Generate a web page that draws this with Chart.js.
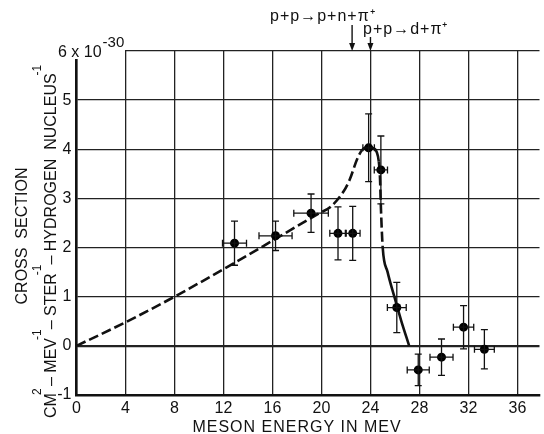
<!DOCTYPE html>
<html><head><meta charset="utf-8">
<script src="https://cdn.jsdelivr.net/npm/chart.js@4/dist/chart.umd.min.js"></script>
<style>html,body{margin:0;padding:0;background:#fff;}#wrap{width:544px;height:434px;position:relative;}</style>
</head><body><div id="wrap"><canvas id="c" width="544" height="434"></canvas></div>
<script>
// ---- data ----
const energy       = [12.9, 16.25, 19.15, 21.35, 22.55, 23.85, 24.85, 26.15, 27.9, 29.8, 31.6, 33.3];
const crossSection = [2.09, 2.24, 2.70, 2.29, 2.29, 4.03, 3.58, 0.78, -0.49, -0.23, 0.38, -0.07];
const yErr         = [0.45, 0.30, 0.39, 0.54, 0.55, 0.69, 0.69, 0.51, 0.32, 0.37, 0.44, 0.40];
const xErr         = [0.98, 1.35, 1.41, 0.67, 0.60, 0.47, 0.54, 0.77, 0.90, 0.94, 0.83, 0.81];
const curveX = [0, 4, 8, 12.9, 16, 19.9, 20.7, 21.8, 22.3, 22.9, 23.3, 23.8, 24.3, 24.5, 24.68, 24.78, 24.84, 25.0, 25.4, 25.95, 26.5, 27.16];
const curveY = [0, 0.48, 1.0, 1.69, 2.14, 2.71, 2.82, 3.14, 3.38, 3.79, 3.98, 4.04, 4.02, 3.95, 3.75, 3.4, 2.9, 2.0, 1.5, 1.0, 0.52, 0];
const xTicks = [0, 4, 8, 12, 16, 20, 24, 28, 32, 36];
const yTicks = [-1, 0, 1, 2, 3, 4, 5, 6];
const thresholds = [22.5, 24];
const thresholdLabels = ['p+p\u2192p+n+\u03C0\u207A', 'p+p\u2192d+\u03C0\u207A'];
const xTitle = 'MESON ENERGY IN MEV';
const yTitle1 = 'CROSS  SECTION';
const yTitle2 = [['CM',0],['2',1],[' \u2013 ',0],['MEV',0],['-1',1],[' \u2013 ',0],['STER',0],['-1',1],[' \u2013 ',0],['HYDROGEN  NUCLEUS',0],['-1',1]];

const FONT = '"Liberation Sans", Arial, sans-serif';
const INK = '#111';

const errorBars = {
  id: 'errorBars',
  afterDatasetsDraw(chart) {
    const {ctx, scales:{x, y}} = chart;
    ctx.save();
    ctx.strokeStyle = INK; ctx.lineWidth = 1.3;
    energy.forEach((e, i) => {
      const px = x.getPixelForValue(e), py = y.getPixelForValue(crossSection[i]);
      const y1 = y.getPixelForValue(crossSection[i] + yErr[i]);
      const y2 = y.getPixelForValue(crossSection[i] - yErr[i]);
      const x1 = x.getPixelForValue(e - xErr[i]);
      const x2 = x.getPixelForValue(e + xErr[i]);
      ctx.beginPath();
      ctx.moveTo(px, y1); ctx.lineTo(px, y2);
      ctx.moveTo(px - 3.5, y1); ctx.lineTo(px + 3.5, y1);
      ctx.moveTo(px - 3.5, y2); ctx.lineTo(px + 3.5, y2);
      ctx.moveTo(x1, py); ctx.lineTo(x2, py);
      ctx.moveTo(x1, py - 3.5); ctx.lineTo(x1, py + 3.5);
      ctx.moveTo(x2, py - 3.5); ctx.lineTo(x2, py + 3.5);
      ctx.stroke();
    });
    ctx.restore();
  }
};

const annotations = {
  id: 'annotations',
  afterDraw(chart) {
    const {ctx, scales:{x, y}} = chart;
    const top = y.getPixelForValue(6);
    ctx.save();
    // y-axis top label "6 x 10^-30"
    ctx.fillStyle = '#fff';
    ctx.fillRect(70, 38, 55, 21);
    ctx.fillStyle = INK;
    ctx.textBaseline = 'alphabetic'; ctx.textAlign = 'left';
    ctx.font = '16px ' + FONT;
    ctx.fillText('6 x 10', 58, 57);
    const w6 = ctx.measureText('6 x 10').width;
    ctx.font = '15px ' + FONT;
    ctx.fillText('-30', 58 + w6 + 1, 47);

    // threshold annotations
    ctx.font = '16px ' + FONT;
    try { ctx.letterSpacing = '1px'; } catch (e) {}
    ctx.fillText(thresholdLabels[0], 270, 21);
    ctx.fillText(thresholdLabels[1], 363, 34);

    // x-axis title
    ctx.textAlign = 'center';
    ctx.fillText(xTitle, 297, 432);
    try { ctx.letterSpacing = '0px'; } catch (e) {}
    ctx.textAlign = 'left';

    const starts = [25, 37];
    ctx.strokeStyle = INK; ctx.lineWidth = 1.4;
    thresholds.forEach((t, i) => {
      const px = x.getPixelForValue(t);
      ctx.beginPath(); ctx.moveTo(px, starts[i]); ctx.lineTo(px, top - 6); ctx.stroke();
      ctx.beginPath(); ctx.moveTo(px - 3, top - 8); ctx.lineTo(px + 3, top - 8); ctx.lineTo(px, top); ctx.closePath(); ctx.fill();
    });

    // y-axis title (rotated)
    ctx.save();
    ctx.translate(27, 236);
    ctx.rotate(-Math.PI / 2);
    ctx.font = '16px ' + FONT;
    ctx.textAlign = 'center';
    ctx.fillText(yTitle1, 0, 0);
    ctx.restore();

    ctx.save();
    ctx.translate(56, 418);
    ctx.rotate(-Math.PI / 2);
    ctx.textAlign = 'left';
    let cx = 0;
    yTitle2.forEach(([t, sup]) => {
      if (sup) {
        ctx.font = '12px ' + FONT;
        ctx.fillText(t, cx - 2, -15);
        cx += ctx.measureText(t).width * 0.4;
      } else {
        ctx.font = '16px ' + FONT;
        ctx.fillText(t, cx, 0);
        cx += ctx.measureText(t).width;
      }
    });
    ctx.restore();
    ctx.restore();
  }
};

new Chart(document.getElementById('c'), {
  type: 'scatter',
  data: {
    datasets: [
      {
        type: 'line',
        data: curveX.map((v, i) => ({x: v, y: curveY[i]})),
        borderColor: INK, borderWidth: 2.6, pointRadius: 0, fill: false,
        cubicInterpolationMode: 'monotone',
        segment: {
          borderDash: c => (c.p0.parsed.x < 23.2 || (c.p0.parsed.x >= 24.6 && c.p0.parsed.x < 24.95)) ? [10, 4] : []
        },
        order: 2
      },
      {
        data: energy.map((v, i) => ({x: v, y: crossSection[i]})),
        pointRadius: 4.5, pointBackgroundColor: '#000', pointBorderColor: '#000', pointBorderWidth: 0,
        showLine: false, order: 1
      }
    ]
  },
  options: {
    responsive: false, animation: false, devicePixelRatio: 1,
    layout: {padding: {top: 51, right: 0, left: 0, bottom: 0}},
    plugins: {legend: {display: false}, tooltip: {enabled: false}},
    scales: {
      x: {
        type: 'linear', min: 0, max: 37.8,
        afterBuildTicks: s => { s.ticks = xTicks.map(v => ({value: v})); },
        afterFit: s => { s.height = 39; },
        ticks: {color: INK, font: {family: FONT, size: 16}, padding: 4, maxRotation: 0, autoSkip: false},
        grid: {color: '#222', lineWidth: 1.3, drawTicks: false},
        border: {color: INK, width: 2.5},
        title: {display: false, text: xTitle}
      },
      y: {
        type: 'linear', min: -1, max: 6,
        afterBuildTicks: s => { s.ticks = yTicks.map(v => ({value: v})); },
        afterFit: s => { s.width = 76.5; },
        ticks: {color: INK, font: {family: FONT, size: 16}, padding: 5, autoSkip: false,
                callback: v => v === 6 ? '' : String(v)},
        grid: {color: '#222', lineWidth: c => c.tick && c.tick.value === 0 ? 2.2 : 1.3, drawTicks: false},
        border: {color: INK, width: 2.5}
      }
    }
  },
  plugins: [errorBars, annotations]
});
</script></body></html>
